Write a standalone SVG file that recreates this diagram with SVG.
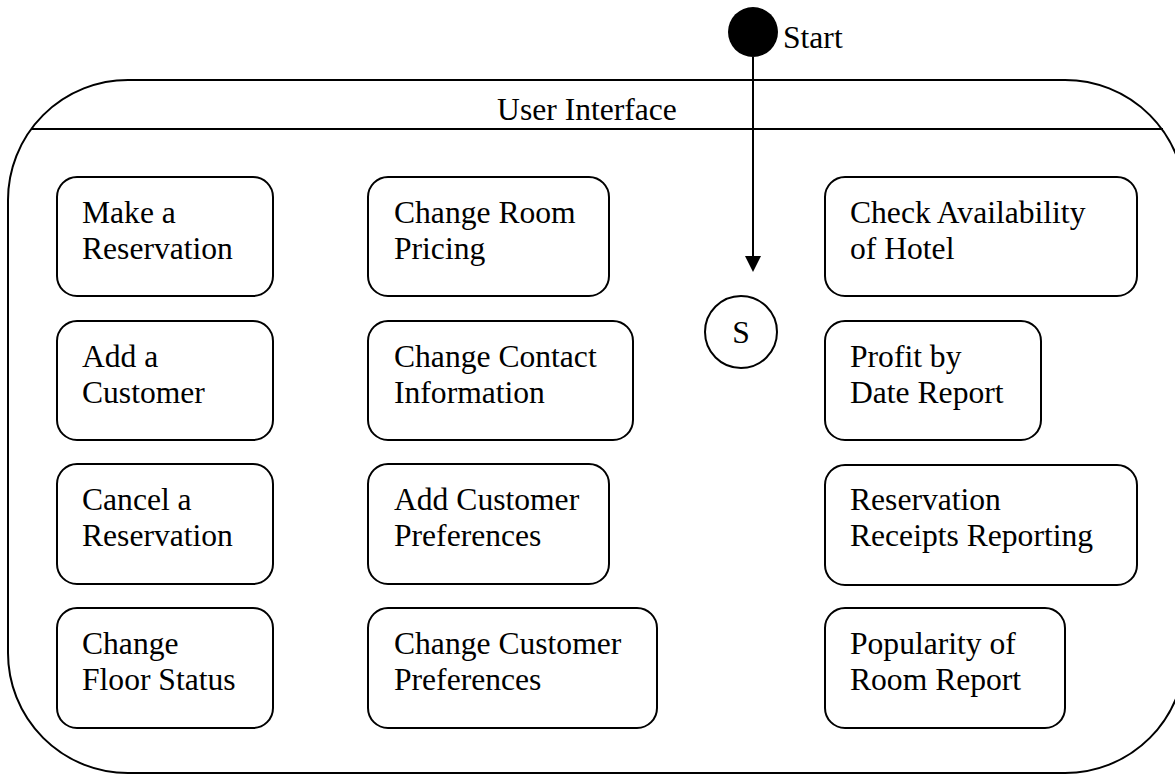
<svg xmlns="http://www.w3.org/2000/svg" width="1175" height="774" viewBox="0 0 1175 774">
  <style>
    .frame { fill: none; stroke: #000; stroke-width: 2; }
    .state { fill: #fff; stroke: #000; stroke-width: 2; }
    .label { font-family: "Liberation Serif", "Times New Roman", serif; font-size: 31.6px; fill: #000; }
    .mid { text-anchor: middle; }
  </style>
  <rect width="1175" height="774" fill="#fff"/>

  <!-- composite state: User Interface -->
  <g id="user-interface">
    <rect class="frame" x="8" y="80" width="1177" height="693" rx="120" ry="120"/>
    <line class="frame" x1="31" y1="129" x2="1163" y2="129"/>
    <text class="label mid" x="587" y="120">User Interface</text>
  </g>

  <!-- initial pseudo-state -->
  <g id="start">
    <circle cx="753" cy="32" r="25" fill="#000"/>
    <text class="label" x="783" y="48">Start</text>
  </g>

  <g id="s-state">
    <circle class="state" cx="741" cy="332" r="36"/>
    <text class="label mid" x="741" y="343">S</text>
  </g>

  <!-- column 1 -->
  <g id="make-reservation">
    <rect class="state" x="57" y="177" width="216" height="119" rx="20"/>
    <text class="label" x="82" y="223">Make a</text>
    <text class="label" x="82" y="259">Reservation</text>
  </g>
  <g id="add-customer">
    <rect class="state" x="57" y="321" width="216" height="119" rx="20"/>
    <text class="label" x="82" y="367">Add a</text>
    <text class="label" x="82" y="403">Customer</text>
  </g>
  <g id="cancel-reservation">
    <rect class="state" x="57" y="464" width="216" height="120" rx="20"/>
    <text class="label" x="82" y="510">Cancel a</text>
    <text class="label" x="82" y="546">Reservation</text>
  </g>
  <g id="change-floor-status">
    <rect class="state" x="57" y="608" width="216" height="120" rx="20"/>
    <text class="label" x="82" y="654">Change</text>
    <text class="label" x="82" y="690">Floor Status</text>
  </g>

  <!-- column 2 -->
  <g id="change-room-pricing">
    <rect class="state" x="368" y="177" width="241" height="119" rx="20"/>
    <text class="label" x="394" y="223">Change Room</text>
    <text class="label" x="394" y="259">Pricing</text>
  </g>
  <g id="change-contact-information">
    <rect class="state" x="368" y="321" width="265" height="119" rx="20"/>
    <text class="label" x="394" y="367">Change Contact</text>
    <text class="label" x="394" y="403">Information</text>
  </g>
  <g id="add-customer-preferences">
    <rect class="state" x="368" y="464" width="241" height="120" rx="20"/>
    <text class="label" x="394" y="510">Add Customer</text>
    <text class="label" x="394" y="546">Preferences</text>
  </g>
  <g id="change-customer-preferences">
    <rect class="state" x="368" y="608" width="289" height="120" rx="20"/>
    <text class="label" x="394" y="654">Change Customer</text>
    <text class="label" x="394" y="690">Preferences</text>
  </g>

  <!-- column 3 -->
  <g id="check-availability">
    <rect class="state" x="825" y="177" width="312" height="119" rx="20"/>
    <text class="label" x="850" y="223">Check Availability</text>
    <text class="label" x="850" y="259">of Hotel</text>
  </g>
  <g id="profit-by-date-report">
    <rect class="state" x="825" y="321" width="216" height="119" rx="20"/>
    <text class="label" x="850" y="367">Profit by</text>
    <text class="label" x="850" y="403">Date Report</text>
  </g>
  <g id="reservation-receipts-reporting">
    <rect class="state" x="825" y="465" width="312" height="120" rx="20"/>
    <text class="label" x="850" y="510">Reservation</text>
    <text class="label" x="850" y="546">Receipts Reporting</text>
  </g>
  <g id="popularity-of-room-report">
    <rect class="state" x="825" y="608" width="240" height="120" rx="20"/>
    <text class="label" x="850" y="654">Popularity of</text>
    <text class="label" x="850" y="690">Room Report</text>
  </g>

  <!-- connectors: Start to S -->
  <g id="connectors">
    <line x1="753" y1="57" x2="753" y2="257" stroke="#000" stroke-width="2"/>
    <polygon points="745,256 761,256 753,272" fill="#000"/>
  </g>
</svg>
